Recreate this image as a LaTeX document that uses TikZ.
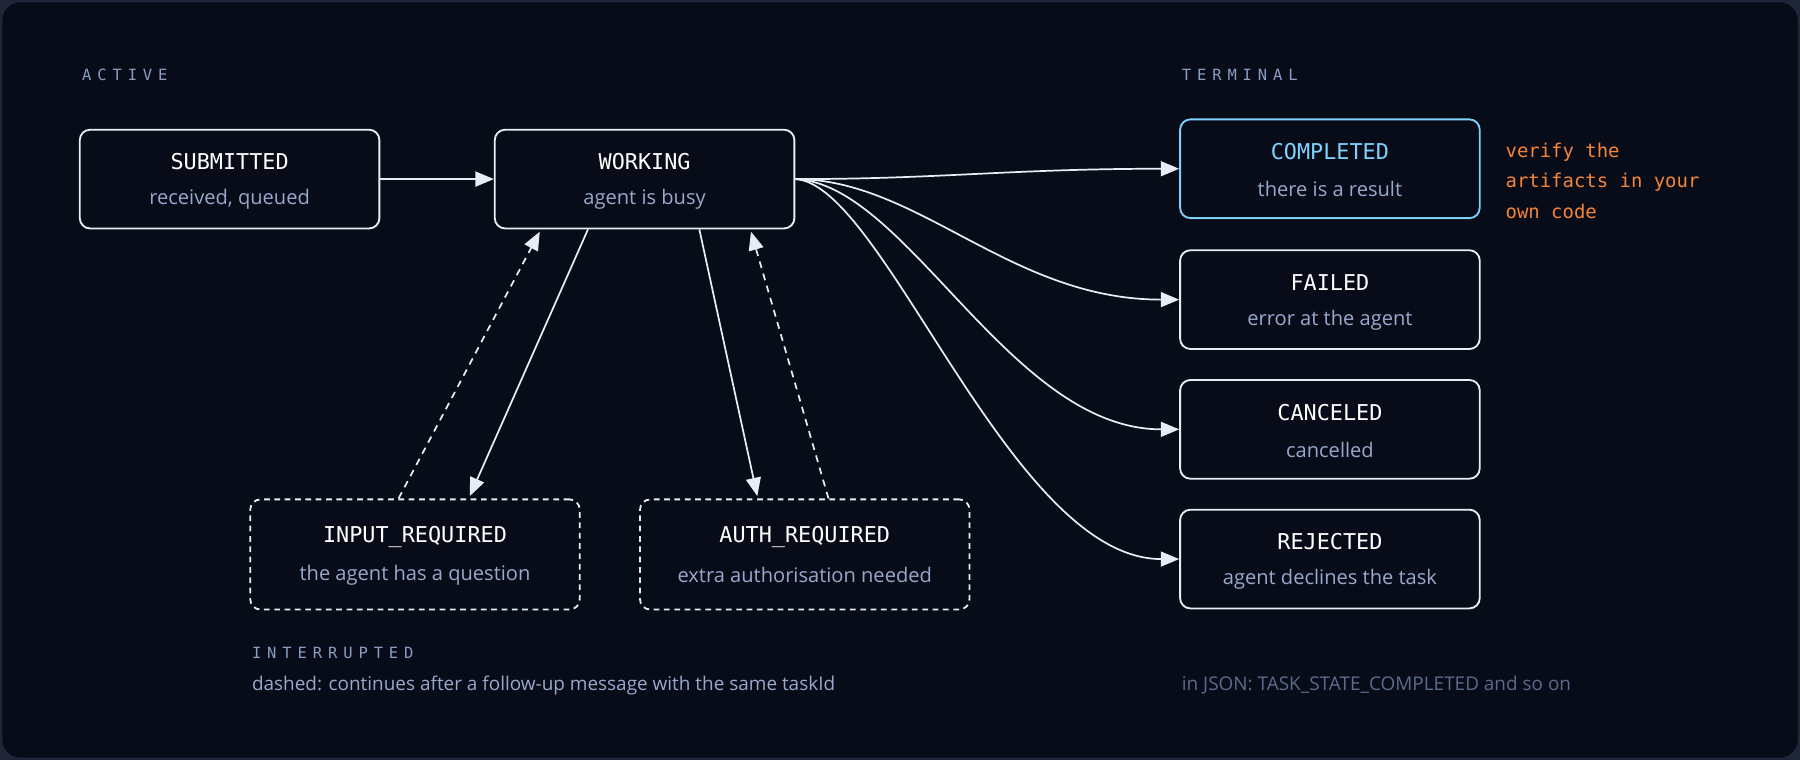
\documentclass[tikz,border=0pt]{standalone}
\usepackage{fontspec}
\setmainfont{Open Sans}
\newfontfamily\monof{DejaVu Sans Mono}
\newfontfamily\monolbl[LetterSpace=38]{DejaVu Sans Mono}
\usetikzlibrary{arrows.meta,calc}
\definecolor{bg}{HTML}{080C18}
\definecolor{frame}{HTML}{1F2638}
\definecolor{boxw}{HTML}{E8ECF4}
\definecolor{subc}{HTML}{9AA8CC}
\definecolor{lblc}{HTML}{8A9CC4}
\definecolor{blu}{HTML}{7DD3FC}
\definecolor{org}{HTML}{F4843A}
\definecolor{dimc}{HTML}{5C6A8C}
\begin{document}
\begin{tikzpicture}[x=1pt,y=-1pt,
  sbox/.style={draw=boxw,line width=1.6pt,rounded corners=9pt,minimum width=261pt,minimum height=86pt,fill=bg},
  cbox/.style={sbox,draw=blu},
  dbox/.style={sbox,dash pattern=on 5pt off 4pt,minimum width=287pt,minimum height=96pt},
  ttl/.style={text=white,font=\monof\fontsize{19}{22}\selectfont},
  sub/.style={text=subc,font=\fontsize{17.5}{20}\selectfont},
  grp/.style={text=lblc,font=\monolbl\fontsize{13.5}{16}\selectfont,anchor=west},
  ar/.style={draw=boxw,line width=1.5pt,-{Triangle[length=16pt,width=13pt]}},
  dar/.style={ar,dash pattern=on 6pt off 5pt}]
\fill[frame] (0,0) rectangle (1568,662);
\fill[bg,rounded corners=16pt] (2,2) rectangle (1566,660);
\useasboundingbox (0,0) rectangle (1568,662);

\node[grp] (la) at (68,65) {ACTIVE};
\node[grp] (lt) at (1026,65) {TERMINAL};
\node[grp] (li) at (216,569) {INTERRUPTED};
\node[anchor=west,text=subc,font=\fontsize{16.5}{18}\selectfont] (ln) at (216,597) {dashed: continues after a follow-up message with the same taskId};
\node[anchor=west,text=dimc,font=\fontsize{16.5}{18}\selectfont] (lj) at (1026,597) {in JSON: TASK\_STATE\_COMPLETED and so on};
\node[anchor=north west,align=left,text=org,font=\monof\fontsize{16.5}{26.5}\selectfont] (nv) at (1308,121) {verify the\\artifacts in your\\own code};

\newcommand{\mkbox}[6]{%
  \node[#1] (#2) at (#3,#4) {};
  \node[ttl] (#2t) at ($(#2.center)+(0,-15)$) {#5};
  \node[sub] (#2s) at ($(#2.center)+(0,18)$) {#6};}
\mkbox{sbox}{sub}{200}{156}{SUBMITTED}{received, queued}
\mkbox{sbox}{wrk}{561.5}{156}{WORKING}{agent is busy}
\mkbox{cbox}{cmp}{1158.5}{147}{\textcolor{blu}{COMPLETED}}{there is a result}
\mkbox{sbox}{fai}{1158.5}{261}{FAILED}{error at the agent}
\mkbox{sbox}{can}{1158.5}{374}{CANCELED}{cancelled}
\mkbox{sbox}{rej}{1158.5}{487}{REJECTED}{agent declines the task}
\mkbox{dbox}{inp}{361.5}{483}{INPUT\_REQUIRED}{the agent has a question}
\mkbox{dbox}{aut}{701}{483}{AUTH\_REQUIRED}{extra authorisation needed}

\draw[ar] (sub.east) -- (wrk.west);
\draw[ar] (wrk.east) .. controls (820,156) and (880,147) .. (cmp.west);
\draw[ar] (wrk.east) .. controls (800,156) and (880,261) .. (fai.west);
\draw[ar] (wrk.east) .. controls (790,160) and (880,374) .. (can.west);
\draw[ar] (wrk.east) .. controls (770,160) and (880,487) .. (rej.west);
\draw[ar] ($(wrk.south west)+(82,0)$) -- ($(inp.north west)+(192,-2)$);
\draw[dar] ($(inp.north west)+(130,0)$) -- ($(wrk.south west)+(40,2)$);
\draw[ar] ($(wrk.south west)+(179,0)$) -- ($(aut.north west)+(103,-2)$);
\draw[dar] ($(aut.north west)+(165,0)$) -- ($(wrk.south west)+(224,2)$);
\end{tikzpicture}
\end{document}
